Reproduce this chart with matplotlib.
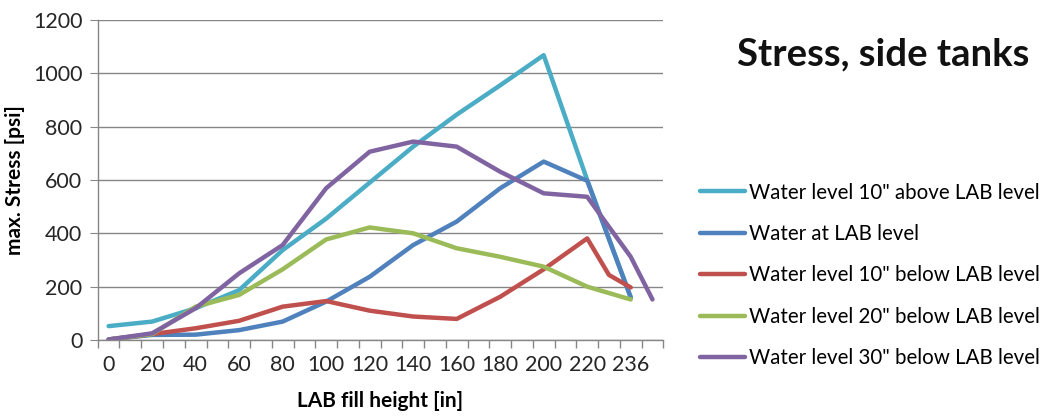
import numpy as np
import matplotlib
matplotlib.use('Agg')
import matplotlib.pyplot as plt

plt.rcParams['font.family'] = ['Lato', 'DejaVu Sans']

nan = np.nan

# LAB fill height categories (labels shown on every second category)
tick_labels = ['0', '', '20', '', '40', '', '60', '', '80', '', '100', '', '120', '',
               '140', '', '160', '', '180', '', '200', '', '220', '', '236', '']

# max. stress [psi] per category, nan where a series has no point
above_10 = [52, nan, 69, nan, 119, nan, 187, nan, 337, nan, 455, nan, 590, nan,
            725, nan, 845, nan, 955, nan, 1068, nan, 600, nan, 160, nan]
at_lab = [2, nan, 19, nan, 20, nan, 37, nan, 69, nan, 144, nan, 237, nan,
          356, nan, 444, nan, 569, nan, 669, nan, 597, nan, 160, nan]
below_10 = [2, nan, 22, nan, 44, nan, 72, nan, 125, nan, 146, nan, 110, nan,
            88, nan, 79, nan, 162, nan, 265, nan, 381, 244, 197, nan]
below_20 = [2, nan, 22, nan, 125, nan, 169, nan, 265, nan, 377, nan, 422, nan,
            400, nan, 344, nan, 312, nan, 275, nan, 200, nan, 152, nan]
below_30 = [2, nan, 25, nan, 119, nan, 250, nan, 356, nan, 569, nan, 706, nan,
            744, nan, 725, nan, 631, nan, 550, nan, 537, nan, 312, 152]

series = [
    ('Water level 10" above LAB level', above_10, '#4BACC6'),
    ('Water at LAB level', at_lab, '#4F81BD'),
    ('Water level 10" below LAB level', below_10, '#C0504D'),
    ('Water level 20" below LAB level', below_20, '#9BBB59'),
    ('Water level 30" below LAB level', below_30, '#8064A2'),
]

fig = plt.figure(figsize=(10.42, 4.16), dpi=100)
ax = fig.add_axes([0.0938, 0.1827, 0.5428, 0.7693])

x = np.arange(len(tick_labels))
lines = []
for name, vals, col in series:
    y = np.array(vals, dtype=float)
    m = ~np.isnan(y)
    ln, = ax.plot(x[m], y[m], color=col, lw=3.2, label=name,
                  solid_joinstyle='round', solid_capstyle='round')
    lines.append(ln)

ax.set_xlim(-0.5, len(tick_labels) - 0.5)
ax.set_ylim(0, 1200)
ax.set_yticks(range(0, 1201, 200))
ax.set_xticks(x[::2])
ax.set_xticklabels(tick_labels[::2])
ax.set_xticks(np.arange(-0.5, len(tick_labels), 1), minor=True)
ax.tick_params(axis='x', which='major', length=0, labelsize=15.5, pad=11, colors='#262626')
ax.tick_params(axis='x', which='minor', length=6, color='#868686', width=1)
ax.tick_params(axis='y', length=6, color='#868686', labelsize=15.5, pad=5,
               labelcolor='#262626')

ax.grid(axis='y', color='#868686', lw=1)
ax.set_axisbelow(True)
for s in ['top', 'right']:
    ax.spines[s].set_visible(False)
for s in ['left', 'bottom']:
    ax.spines[s].set_color('#868686')
    ax.spines[s].set_linewidth(1)

ax.set_xlabel('LAB fill height [in]', fontsize=15, fontweight='bold', labelpad=11)
ax.set_ylabel('max. Stress [psi]', fontsize=15, fontweight='bold', labelpad=6)

fig.text(0.848, 0.868, 'Stress, side tanks', fontsize=27.5, fontweight='bold',
         ha='center', va='center', color='#111111')

fig.legend(handles=lines, loc='center left', bbox_to_anchor=(0.664, 0.338),
           frameon=False, fontsize=14.8, handlelength=2.2, handletextpad=0.2,
           labelspacing=1.04, borderaxespad=0)

fig.savefig('out.png', dpi=100)
